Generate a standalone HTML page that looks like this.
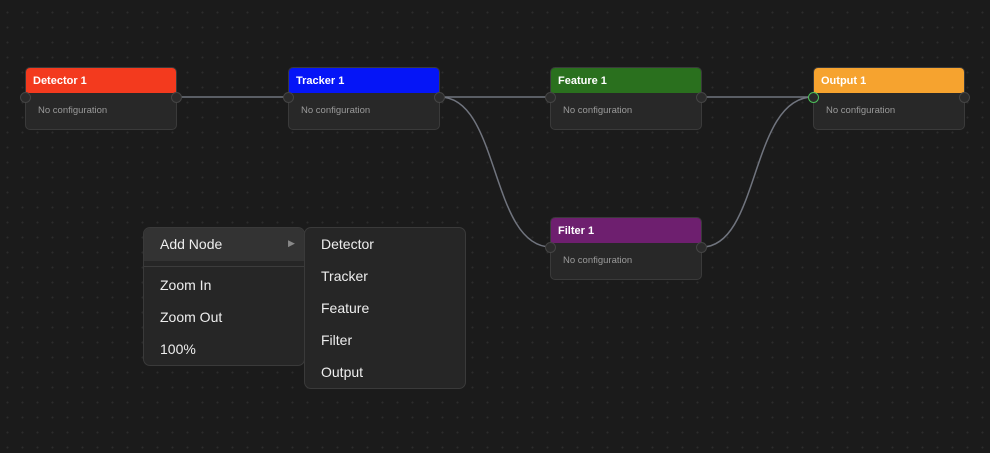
<!DOCTYPE html>
<html><head><style>
*{margin:0;padding:0;box-sizing:border-box}
body{width:990px;height:453px;overflow:hidden;background:#1b1b1b;
background-image:radial-gradient(circle,#2c2c2c 0.8px,transparent 1.2px);background-size:15px 15px;background-position:0px 5px;
font-family:"Liberation Sans",sans-serif;position:relative}
.node{position:absolute;width:152px;height:63px;background:#282828;border:1px solid #3a3a3a;border-radius:5px}
.hd{height:25px;border-radius:4px 4px 0 0;color:#fff;font-weight:bold;font-size:11px;line-height:26px;padding-left:7px}
.bd{color:#9a9a9a;font-size:9.5px;padding:12px 0 0 12px}
.port{position:absolute;top:24px;width:11px;height:11px;border-radius:50%;background:#2b2b2b;border:1.5px solid #444}
.pl{left:-6px}.pr{right:-6px}
.menu{position:absolute;background:#262626;border:1px solid #3a3a3a;border-radius:7px;color:#eee;font-size:14px}
.it{position:absolute;left:16px}
svg{position:absolute;left:0;top:0}
</style></head><body>
<svg width="990" height="453"><g fill="none" stroke="#70747e" stroke-width="1.5">
<path d="M177 97 L288 97"/><path d="M440 97 L550 97"/><path d="M702 97 L813 97"/>
<path d="M440 97 C500 97 490 247 551 247"/><path d="M702 247 C760 247 750 97 813 97"/>
</g></svg>
<div class="node" style="left:25px;top:67px"><div class="hd" style="background:#f33a1e">Detector 1</div><div class="bd">No configuration</div><div class="port pl"></div><div class="port pr"></div></div>
<div class="node" style="left:288px;top:67px"><div class="hd" style="background:#0515f7">Tracker 1</div><div class="bd">No configuration</div><div class="port pl"></div><div class="port pr"></div></div>
<div class="node" style="left:550px;top:67px"><div class="hd" style="background:#2a701e">Feature 1</div><div class="bd">No configuration</div><div class="port pl"></div><div class="port pr"></div></div>
<div class="node" style="left:813px;top:67px"><div class="hd" style="background:#f6a32f">Output 1</div><div class="bd">No configuration</div><div class="port pl" style="border-color:#4cc05a"></div><div class="port pr"></div></div>
<div class="node" style="left:550px;top:217px"><div class="hd" style="background:#6e1f6f">Filter 1</div><div class="bd">No configuration</div><div class="port pl"></div><div class="port pr"></div></div>
<div class="menu" style="left:143px;top:227px;width:162px;height:139px">
<div style="position:absolute;left:0;top:0;width:160px;height:33px;background:#333;border-radius:6px 6px 0 0"></div>
<div style="position:absolute;left:0;top:38px;width:160px;height:1px;background:#3c3c3c"></div>
<div class="it" style="top:8px">Add Node</div>
<div style="position:absolute;left:144px;top:10px;font-size:9px;color:#888">&#9654;</div>
<div class="it" style="top:49px">Zoom In</div>
<div class="it" style="top:81px">Zoom Out</div>
<div class="it" style="top:113px">100%</div>
</div>
<div class="menu" style="left:304px;top:227px;width:162px;height:162px">
<div class="it" style="top:8px">Detector</div>
<div class="it" style="top:40px">Tracker</div>
<div class="it" style="top:72px">Feature</div>
<div class="it" style="top:104px">Filter</div>
<div class="it" style="top:136px">Output</div>
</div>
</body></html>
